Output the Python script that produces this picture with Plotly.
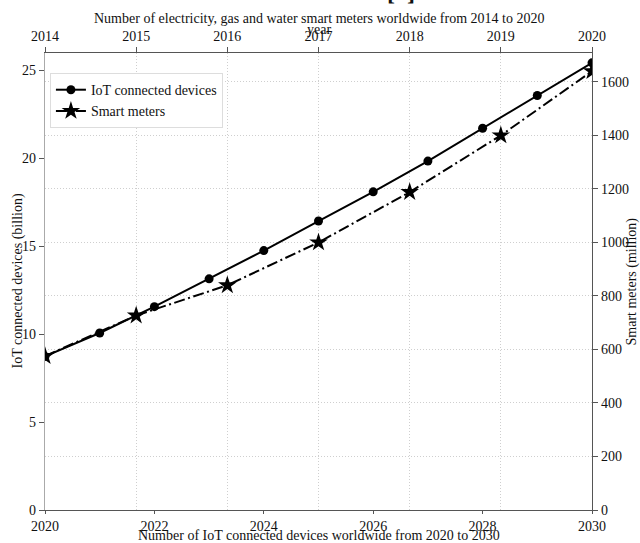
import plotly.graph_objects as go

# Data
iot_years = [2020, 2021, 2022, 2023, 2024, 2025, 2026, 2027, 2028, 2029, 2030]
iot_devices = [8.74, 10.07, 11.57, 13.15, 14.76, 16.44, 18.1, 19.85, 21.72, 23.58, 25.44]

meter_years = [2014, 2015, 2016, 2017, 2018, 2019, 2020]
smart_meters = [575, 727, 840, 1000, 1188, 1400, 1640]

left_ticks = [0, 5, 10, 15, 20, 25]
right_ticks = [0, 200, 400, 600, 800, 1000, 1200, 1400, 1600]
bottom_ticks = [2020, 2022, 2024, 2026, 2028, 2030]
top_ticks = [2014, 2015, 2016, 2017, 2018, 2019, 2020]

FONT = "Liberation Serif, Times New Roman, serif"

fig = go.Figure()
fig.add_trace(go.Scatter(
    x=iot_years, y=iot_devices, name="IoT connected devices",
    mode="lines+markers", xaxis="x", yaxis="y",
    line=dict(color="black", width=2),
    marker=dict(symbol="circle", size=9, color="black"),
))
fig.add_trace(go.Scatter(
    x=meter_years, y=smart_meters, name="Smart meters",
    mode="lines+markers", xaxis="x2", yaxis="y2",
    line=dict(color="black", width=2, dash="11px,3.5px,2px,3.5px"),
    marker=dict(symbol="star", size=14, color="black"),
))

axis_common = dict(
    ticks="outside", ticklen=5, tickwidth=1, tickcolor="#555",
    showline=True, linewidth=1.2, linecolor="#555",
    tickfont=dict(family=FONT, size=14, color="#111"),
    zeroline=False, automargin=False,
)
grid_common = dict(showgrid=True, gridcolor="#cfcfcf", griddash="1px,2px", gridwidth=1)

fig.update_layout(
    width=640, height=543,
    margin=dict(l=45, r=48, t=53, b=33),
    plot_bgcolor="white", paper_bgcolor="white",
    font=dict(family=FONT, size=14, color="#111"),
    showlegend=True,
    legend=dict(
        x=0.009, y=0.956, xanchor="left", yanchor="top",
        bgcolor="white", bordercolor="#dddddd", borderwidth=1,
        font=dict(family=FONT, size=14, color="#111"),
        itemwidth=30, tracegroupgap=0,
    ),
    xaxis=dict(range=[2020, 2030], tickvals=bottom_ticks, showgrid=False,
               **{**axis_common, "ticklen": 3}),
    yaxis=dict(range=[0, 26], tickvals=left_ticks, showgrid=False,
               **{**axis_common, "linecolor": "#aaaaaa"}),
    xaxis2=dict(range=[2014, 2020], tickvals=top_ticks, overlaying="x",
                side="top", **grid_common, **axis_common),
    yaxis2=dict(range=[0, 1708], tickvals=right_ticks, overlaying="y",
                side="right", **grid_common, **axis_common),
)

ann = dict(xref="paper", yref="paper", showarrow=False,
           font=dict(family=FONT, size=14, color="#111"))
fig.add_annotation(x=0.5, y=1, yshift=35, yanchor="middle",
                   text="Number of electricity, gas and water smart meters worldwide from 2014 to 2020", **ann)
fig.add_annotation(x=0.5, y=1, yshift=24, yanchor="middle", text="year", **ann)
fig.add_annotation(x=0.5, y=0, yshift=-25, yanchor="middle",
                   text="Number of IoT connected devices worldwide from 2020 to 2030", **ann)
fig.add_annotation(x=0, y=0.5, xshift=-28, xanchor="center", yanchor="middle",
                   textangle=-90, text="IoT connected devices (billion)", **ann)
fig.add_annotation(x=1, y=0.5, xshift=39, xanchor="center", yanchor="middle",
                   textangle=-90, text="Smart meters (million)", **ann)
fig.add_annotation(x=0.68, y=1, yshift=61, yanchor="middle",
                   text="<b>[&nbsp;&nbsp;]</b>", xref="paper", yref="paper", showarrow=False,
                   font=dict(family=FONT, size=24, color="#111"))

fig.write_html("out.html", config={"displayModeBar": False},
               post_script="document.body.style.margin='0';document.body.style.overflow='hidden';")
